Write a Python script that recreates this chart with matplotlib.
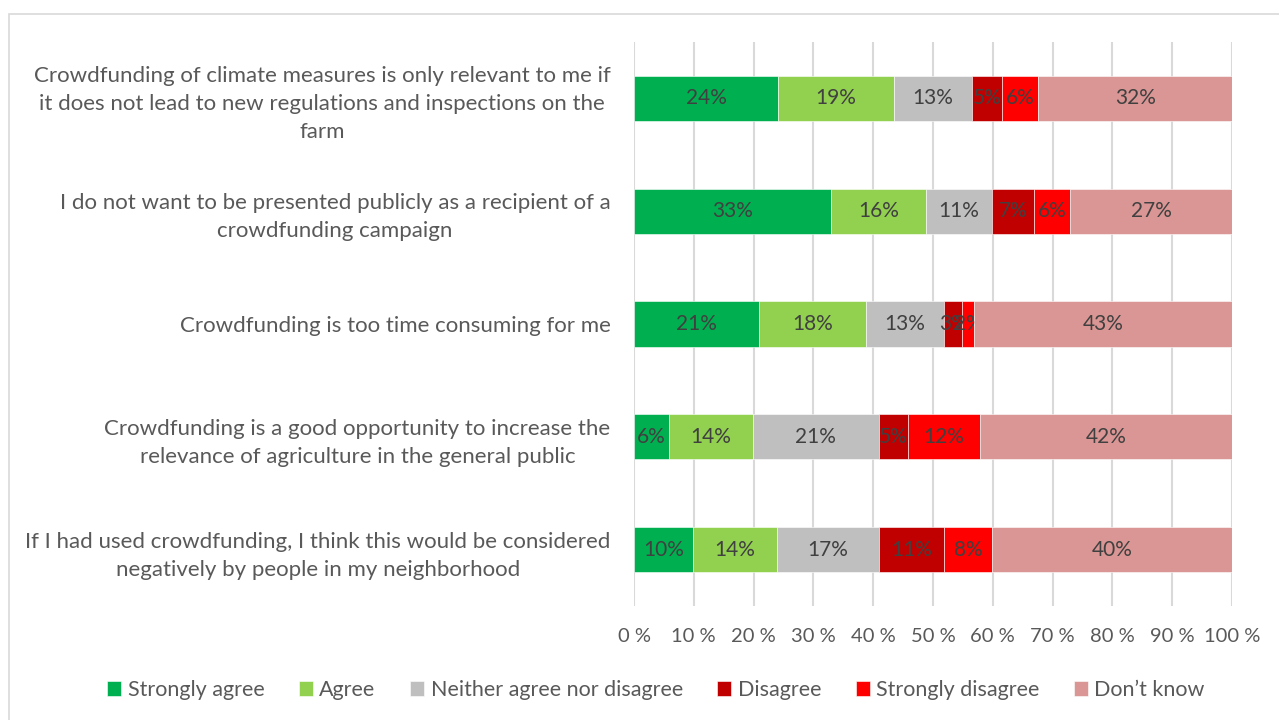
import matplotlib.pyplot as plt
from matplotlib.patches import Rectangle
import numpy as np

plt.rcParams['font.family'] = ['Lato', 'DejaVu Sans']

statements = [
    "Crowdfunding of climate measures is only relevant to me if\nit does not lead to new regulations and inspections on the\nfarm",
    "I do not want to be presented publicly as a recipient of a\ncrowdfunding campaign",
    "Crowdfunding is too time consuming for me",
    "Crowdfunding is a good opportunity to increase the\nrelevance of agriculture in the general public",
    "If I had used crowdfunding, I think this would be considered\nnegatively by people in my neighborhood",
]

responses = ["Strongly agree", "Agree", "Neither agree nor disagree",
             "Disagree", "Strongly disagree", "Don\u2019t know"]

strongly_agree = [24.1, 32.9, 20.9, 5.9, 9.9]
agree = [19.3, 15.9, 17.9, 14.0, 14.0]
neutral = [13.2, 11.1, 13.1, 21.0, 17.0]
disagree = [5.0, 7.0, 3.0, 5.0, 11.0]
strongly_disagree = [6.0, 6.0, 1.9, 11.9, 8.0]
dont_know = [32.4, 27.1, 43.2, 42.2, 40.1]

colors = ["#00B050", "#92D050", "#BFBFBF", "#C00000", "#FF0000", "#DA9694"]
series = [strongly_agree, agree, neutral, disagree, strongly_disagree, dont_know]

fig = plt.figure(figsize=(12.79, 7.20), dpi=100)
fig.patches.append(Rectangle((9 / 1279, -0.05), 1.2, 1 - 14 / 720 + 0.05,
                             transform=fig.transFigure, fill=False,
                             edgecolor="#D9D9D9", linewidth=1.2))

ax = fig.add_axes([634 / 1279, 1 - 606 / 720, (1232 - 634) / 1279, (606 - 42) / 720])

y = np.arange(len(statements))
left = np.zeros(len(statements))
for name, vals, col in zip(responses, series, colors):
    vals = np.array(vals)
    bars = ax.barh(y, vals, left=left, height=0.4, color=col, label=name,
                   edgecolor="white", linewidth=0.4, zorder=3)
    ax.bar_label(bars, labels=[f"{v:.0f}%" for v in vals], label_type="center",
                 color="#404040", fontsize=15)
    left += vals

ax.set_xlim(0, 100)
ax.set_ylim(len(statements) - 0.5, -0.5)
ax.set_xticks(np.arange(0, 101, 10))
ax.set_xticklabels([f"{t} %" for t in range(0, 101, 10)], color="#595959", fontsize=14.5)
ax.set_yticks(y)
ax.set_yticklabels(statements, color="#595959", fontsize=16,
                   multialignment="center", linespacing=1.5)
ax.tick_params(axis="both", length=0)
ax.tick_params(axis="x", pad=16)
ax.tick_params(axis="y", pad=17)
ax.grid(axis="x", color="#D9D9D9", linewidth=1.5, zorder=0)
for s in ax.spines.values():
    s.set_visible(False)

handles, labels = ax.get_legend_handles_labels()
fig.legend(handles, labels, loc="center", bbox_to_anchor=(656 / 1279, 1 - 690 / 720),
           ncol=6, frameon=False, fontsize=15.5, labelcolor="#595959",
           handlelength=0.65, handleheight=0.65, handletextpad=0.3, columnspacing=1.6)

fig.savefig("out.png", dpi=100)
